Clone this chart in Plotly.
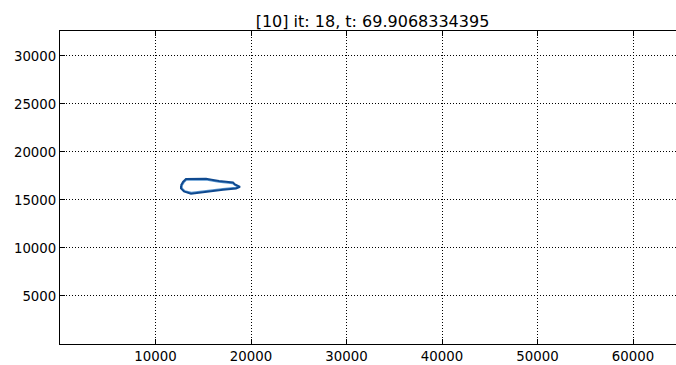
import plotly.graph_objects as go

title_text = "[10] it: 18, t: 69.9068334395"

# outer contour (dark blue)
outer_x = [12670, 12880, 13190, 13820, 15290, 16020, 16650, 18110, 18320, 18850,
           18430, 17070, 15600, 14450, 13720, 12980, 12670, 12670]
outer_y = [16520, 16880, 17190, 17220, 17210, 17090, 16980, 16830, 16620, 16360,
           16200, 16060, 15900, 15750, 15660, 15890, 16200, 16520]

# inner contour (lighter blue)
inner_x = [12800, 12990, 13250, 13820, 15280, 16000, 16630, 18080, 18260, 18660,
           18380, 17060, 15600, 14460, 13760, 13070, 12790, 12800]
inner_y = [16520, 16840, 17080, 17100, 17090, 16970, 16860, 16710, 16560, 16360,
           16300, 16180, 16020, 15870, 15780, 15960, 16220, 16520]

x_ticks = [10000, 20000, 30000, 40000, 50000, 60000]
y_ticks = [5000, 10000, 15000, 20000, 25000, 30000]
x_range = [0, 64500]
y_range = [0, 32600]

fig = go.Figure()
fig.add_trace(go.Scatter(x=inner_x, y=inner_y, mode="lines",
                         line=dict(color="#5b98d2", width=1.3), hoverinfo="skip"))
fig.add_trace(go.Scatter(x=outer_x, y=outer_y, mode="lines",
                         line=dict(color="#0f4a90", width=2.0), hoverinfo="skip"))

axis_common = dict(
    showgrid=True, gridcolor="black", griddash="1px,2px", gridwidth=1,
    zeroline=False, showline=True, linecolor="black", linewidth=1.2,
    ticks="inside", ticklen=5, tickcolor="black", automargin=False,
    tickfont=dict(family="DejaVu Sans", size=13.3, color="black"),
)
fig.update_xaxes(range=x_range, tickvals=x_ticks, ticktext=[str(v) for v in x_ticks],
                 mirror="ticks", **axis_common)
fig.update_yaxes(range=y_range, tickvals=y_ticks, ticktext=[str(v) for v in y_ticks],
                 mirror=False, **axis_common)

fig.update_layout(
    width=676, height=365,
    margin=dict(l=60, r=0, t=31, b=21, autoexpand=False),
    plot_bgcolor="white", paper_bgcolor="white",
    showlegend=False,
    title=dict(text=title_text, x=(372.5 - 60) / 616, xref="paper", xanchor="center",
               y=1 - 21 / 365, yref="container", yanchor="middle",
               font=dict(family="DejaVu Sans", size=16, color="black")),
)

fig.write_html(
    "out.html",
    config={"displayModeBar": False},
    post_script="document.body.style.margin='0';document.body.style.overflow='hidden';",
)
